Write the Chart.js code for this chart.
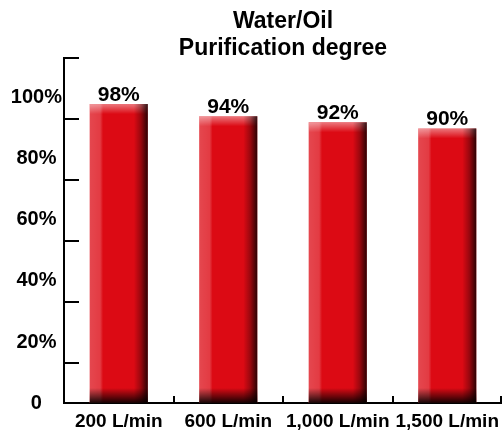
<!DOCTYPE html>
<html>
<head>
<meta charset="utf-8">
<script src="https://cdn.jsdelivr.net/npm/chart.js@4.4.1/dist/chart.umd.min.js"></script>
<style>
  html, body { margin: 0; padding: 0; background: #fff; }
  #wrap { width: 502px; height: 432px; }
</style>
</head>
<body>
<div id="wrap"><canvas id="chart"></canvas></div>
<script>
// chart data
const categories = ['200 L/min', '600 L/min', '1,000 L/min', '1,500 L/min'];
const purification = [98, 94, 92, 90];
const yLabels = [0, 20, 40, 60, 80, 100];
const yMarks = [13, 33, 53, 73, 93, 113];
const yMax = 113;

const FONT = "'Liberation Sans', Arial, sans-serif";

// shading + tick marks + value labels drawn on top of the bars
const bevelPlugin = {
  id: 'bevel',
  afterDatasetsDraw(chart) {
    const ctx = chart.ctx;
    const meta = chart.getDatasetMeta(0);
    ctx.save();
    meta.data.forEach((el, i) => {
      const { x, y, base, width } = el.getProps(['x', 'y', 'base', 'width'], true);
      const l = x - width / 2, r = x + width / 2;
      const h = base - y;

      // top bevel
      let g = ctx.createLinearGradient(0, y, 0, y + 10);
      g.addColorStop(0, 'rgba(255,255,255,0.45)');
      g.addColorStop(1, 'rgba(255,255,255,0)');
      ctx.fillStyle = g;
      ctx.fillRect(l, y, width, 10);

      // left highlight / right shadow
      g = ctx.createLinearGradient(l, 0, r, 0);
      g.addColorStop(0, 'rgba(255,255,255,0.25)');
      g.addColorStop(0.18, 'rgba(255,255,255,0.2)');
      g.addColorStop(0.23, 'rgba(255,255,255,0)');
      g.addColorStop(0.76, 'rgba(0,0,0,0)');
      g.addColorStop(0.88, 'rgba(0,0,0,0.3)');
      g.addColorStop(1, 'rgba(0,0,0,0.8)');
      ctx.fillStyle = g;
      ctx.fillRect(l, y, width, h);

      // bottom shadow
      g = ctx.createLinearGradient(0, base - 15, 0, base);
      g.addColorStop(0, 'rgba(0,0,0,0)');
      g.addColorStop(1, 'rgba(0,0,0,0.9)');
      ctx.fillStyle = g;
      ctx.fillRect(l, base - 15, width, 15);

      // value label
      ctx.fillStyle = '#000';
      ctx.font = 'bold 21px ' + FONT;
      ctx.textAlign = 'center';
      ctx.textBaseline = 'alphabetic';
      ctx.fillText(purification[i] + '%', x, y - 3);
    });

    // inward tick marks
    const xs = chart.scales.x, ys = chart.scales.y;
    ctx.strokeStyle = '#000';
    ctx.lineWidth = 2;
    ctx.beginPath();
    yMarks.forEach(v => {
      const py = Math.round(ys.getPixelForValue(v));
      ctx.moveTo(xs.left - 1, py);
      ctx.lineTo(xs.left + 15, py);
    });
    for (let i = 0; i < categories.length; i++) {
      const px = i < categories.length - 1
        ? (xs.getPixelForTick(i) + xs.getPixelForTick(i + 1)) / 2
        : xs.right - 1;
      ctx.moveTo(Math.round(px), ys.bottom);
      ctx.lineTo(Math.round(px), ys.bottom - 7);
    }
    ctx.stroke();
    ctx.restore();
  }
};

new Chart(document.getElementById('chart'), {
  type: 'bar',
  data: {
    labels: categories,
    datasets: [{
      data: purification,
      backgroundColor: '#dc0a14',
      borderWidth: 0,
      categoryPercentage: 1,
      barPercentage: 0.53
    }]
  },
  options: {
    responsive: true,
    maintainAspectRatio: false,
    animation: false,
    layout: { padding: 0 },
    plugins: {
      legend: { display: false },
      tooltip: { enabled: false },
      title: {
        display: true,
        fullSize: false,
        text: ['Water/Oil', 'Purification degree'],
        color: '#000',
        font: { family: FONT, size: 23, weight: 'bold', lineHeight: 1.18 },
        padding: { top: 8, bottom: -4 }
      }
    },
    scales: {
      x: {
        grid: { display: true, drawOnChartArea: false, drawTicks: true, tickLength: 7, color: 'transparent' },
        border: { display: true, color: '#000', width: 2 },
        ticks: {
          color: '#000',
          font: { family: FONT, size: 19, weight: 'bold' },
          padding: 0,
          maxRotation: 0,
          autoSkip: false
        },
        afterFit(scale) { scale.height = 29; }
      },
      y: {
        min: 0,
        max: yMax,
        grid: { display: false, drawTicks: false },
        border: { display: true, color: '#000', width: 2 },
        afterBuildTicks(scale) { scale.ticks = yLabels.map(v => ({ value: v })); },
        ticks: {
          color: '#000',
          font: { family: FONT, size: 20, weight: 'bold' },
          padding: 2,
          crossAlign: 'center',
          callback: v => v === 0 ? '0' : v + '%'
        },
        afterFit(scale) { scale.width = 64; }
      }
    }
  },
  plugins: [bevelPlugin]
});
</script>
</body>
</html>
